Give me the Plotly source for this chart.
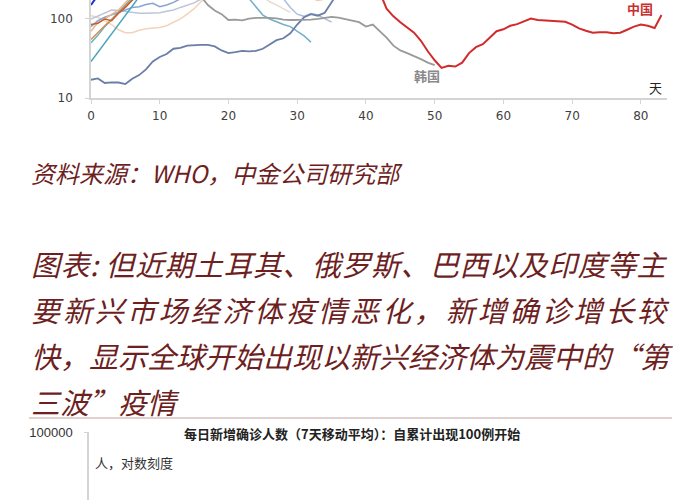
import plotly.graph_objects as go

# ---------------- data ----------------
x_ticks = [0, 10, 20, 30, 40, 50, 60, 70, 80]
y_ticks = [10, 100]
y_tick_text = ["10", "100"]

china_days = list(range(41, 84))
china_vals = [320, 220, 135, 108, 91, 78, 67, 53, 39, 30, 24, 25.5, 25, 28, 37, 44, 48,
              58, 70, 74, 82, 86, 93, 101, 97, 96, 96, 95, 92, 85, 76, 71, 67, 68, 68,
              66, 67, 73, 80, 85, 82, 77, 112]

korea_days = list(range(14, 51))
korea_vals = [320, 250, 190, 150, 128, 115, 97, 98, 96, 101, 103, 104, 103, 102, 98, 97,
              97, 97, 98, 100, 103, 106, 104, 99, 96, 91, 80, 85, 70, 58, 46, 40, 37, 34,
              31, 28, 26]

japan_days = list(range(0, 37))
japan_vals = [17, 17.7, 15.5, 15.8, 15.7, 15, 17.5, 19.5, 23, 29, 33, 36, 42, 43, 46, 47,
              47, 47, 45, 40, 37, 38, 39.5, 39, 39.5, 42, 48, 54, 57, 66, 85, 105, 115,
              110, 120, 160, 220]

teal1_days = list(range(0, 8))
teal1_vals = [29, 38, 50, 65, 85, 110, 145, 190]

teal2_days = list(range(0, 7))
teal2_vals = [50, 62, 80, 98, 120, 150, 185]

orange1_days = list(range(0, 8))
orange1_vals = [55, 68, 82, 98, 118, 145, 175, 220]

orange2_days = list(range(0, 8))
orange2_vals = [85, 88, 100, 95, 118, 140, 172, 210]

salmon_days = list(range(0, 7))
salmon_vals = [70, 90, 100, 115, 130, 160, 200]

peach_days = list(range(0, 18))
peach_vals = [110, 105, 95, 85, 73, 67, 67, 72, 75, 76, 78, 82, 90, 100, 115, 135, 165, 200]

greyblue_days = list(range(0, 18))
greyblue_vals = [100, 110, 120, 130, 128, 125, 122, 118, 118, 118, 120, 125, 130, 140,
                 150, 160, 178, 200]

midblue_days = list(range(0, 15))
midblue_vals = [80, 95, 105, 112, 120, 130, 140, 143, 152, 158, 143, 150, 162, 178, 200]

lightblue_days = list(range(27, 36))
lightblue_vals = [220, 180, 140, 115, 108, 117, 112, 100, 91]

beige_days = list(range(25, 30))
beige_vals = [190, 165, 150, 135, 121]

tealdown_days = list(range(22, 33))
tealdown_vals = [230, 180, 140, 112, 100, 92, 85, 80, 70, 61, 51]

darkblue_days = [0, 1]
darkblue_vals = [150, 200]

lightorange_days = list(range(31, 35))
lightorange_vals = [200, 182, 172, 178]

# bottom (second) chart
bottom_tick_vals = [100000]
bottom_tick_text = ["100000"]

# ---------------- figure ----------------
TEXT_RED = "#6e1f1f"
AXIS = "#d4d4d4"

series = [
    (peach_days, peach_vals, "#f5d2bb", 1.5),
    (beige_days, beige_vals, "#e8dccf", 1.5),
    (greyblue_days, greyblue_vals, "#bcc6d6", 1.5),
    (lightblue_days, lightblue_vals, "#a9bfe0", 1.5),
    (lightorange_days, lightorange_vals, "#f2c29c", 1.5),
    (midblue_days, midblue_vals, "#88a3d3", 1.5),
    (salmon_days, salmon_vals, "#f0b48e", 1.5),
    (teal1_days, teal1_vals, "#4aa6bb", 1.5),
    (teal2_days, teal2_vals, "#62b3c2", 1.5),
    (tealdown_days, tealdown_vals, "#71b0c6", 1.5),
    (orange1_days, orange1_vals, "#e08a4a", 1.5),
    (orange2_days, orange2_vals, "#c0612e", 1.5),
    (japan_days, japan_vals, "#6a7ea8", 1.8),
    (korea_days, korea_vals, "#9a9a9a", 1.8),
    (darkblue_days, darkblue_vals, "#1a2fd0", 2),
    (china_days, china_vals, "#d22b2b", 2),
]

fig = go.Figure()
for d, v, c, w in series:
    fig.add_trace(go.Scatter(x=d, y=v, mode="lines", line=dict(color=c, width=w),
                             hoverinfo="skip", showlegend=False, xaxis="x", yaxis="y"))

# invisible trace for the second chart's axes
fig.add_trace(go.Scatter(x=[0], y=[1], mode="markers", marker=dict(opacity=0),
                         hoverinfo="skip", showlegend=False, xaxis="x2", yaxis="y2"))

tick_font = dict(family="DejaVu Sans", size=12, color="#404040")

fig.update_layout(
    width=700, height=500,
    margin=dict(l=0, r=0, t=0, b=0, autoexpand=False),
    paper_bgcolor="white", plot_bgcolor="white",
    showlegend=False,
    xaxis=dict(domain=[91 / 700, 667 / 700], range=[0, 83.8], tickvals=x_ticks,
               ticks="outside", ticklen=4, tickcolor=AXIS, showline=True, linecolor=AXIS,
               linewidth=1.5, showgrid=False, zeroline=False, tickfont=tick_font,
               ticklabelstandoff=2, anchor="y"),
    yaxis=dict(domain=[1 - 98 / 500, 1], type="log", range=[1, 2.24], tickvals=y_ticks,
               ticktext=y_tick_text, ticks="outside", ticklen=4, tickcolor=AXIS,
               showline=True, linecolor=AXIS, linewidth=1.5, showgrid=False,
               zeroline=False, tickfont=tick_font, ticklabelstandoff=10, anchor="x"),
    xaxis2=dict(domain=[89 / 700, 0.95], range=[0, 80], visible=False, anchor="y2"),
    yaxis2=dict(domain=[0, 68 / 500], type="log", range=[4.14, 5.0001],
                tickvals=bottom_tick_vals, ticktext=bottom_tick_text, ticks="outside",
                ticklen=3, tickcolor=AXIS, showline=True, linecolor=AXIS, linewidth=1.5,
                showgrid=False, zeroline=False, ticklabelstandoff=9,
                tickfont=dict(family="Liberation Sans", size=13, color="#333333"),
                anchor="x2"),
)

CJK = "Noto Sans CJK SC"

def note(text, x, y, size, color, xanchor="left", weight="normal", style="normal"):
    fig.add_annotation(text=text, x=x / 700, y=1 - y / 500, xref="paper", yref="paper",
                       xanchor=xanchor, yanchor="middle", showarrow=False,
                       align="left" if xanchor == "left" else "center",
                       font=dict(family=CJK, size=size, color=color, weight=weight,
                                 style=style))

# chart labels (top chart)
note("中国", 640, 8, 13, "#c83030", xanchor="center", weight="bold")
note("韩国", 427, 75, 13, "#8a8a8a", xanchor="center", weight="bold")
note("天", 655, 88, 13, "#222222", xanchor="center")

# document text
note("资料来源：WHO，中金公司研究部", 29, 172, 24, TEXT_RED, style="italic")
headline = [
    "图表: 但近期土耳其、俄罗斯、巴西以及印度等主",
    "要新兴市场经济体疫情恶化，新增确诊增长较",
    "快，显示全球开始出现以新兴经济体为震中的“第",
    "三波”疫情",
]
for i, line in enumerate(headline):
    note(line, 29, 263 + i * 46, 29, TEXT_RED, style="italic")

# separator rule
fig.add_shape(type="line", xref="paper", yref="paper", x0=29 / 700, x1=672 / 700,
              y0=1 - 418 / 500, y1=1 - 418 / 500, line=dict(color="#c2a3a3", width=1))

# bottom chart texts
note("<b>每日新增确诊人数（7天移动平均）：自累计出现100例开始</b>", 352, 433, 13,
     "#222222", xanchor="center")
note("人，对数刻度", 93, 462, 13, "#333333")

# page without body margin; justified headline lines are stretched to full width
post = """
document.body.style.margin = '0';
document.body.style.overflow = 'hidden';
var gd = document.getElementById('{plot_id}');
function justify() {
  gd.querySelectorAll('text.annotation-text').forEach(function (t) {
    var s = t.textContent;
    if (s.indexOf('要新兴') === 0) { t.style.letterSpacing = '2.9px'; }
    else if (s.indexOf('图表') === 0) { t.style.letterSpacing = '0.5px'; }
  });
}
justify();
if (gd.on) { gd.on('plotly_afterplot', justify); }
"""

fig.write_html("out.html", post_script=post, config={"displayModeBar": False})
